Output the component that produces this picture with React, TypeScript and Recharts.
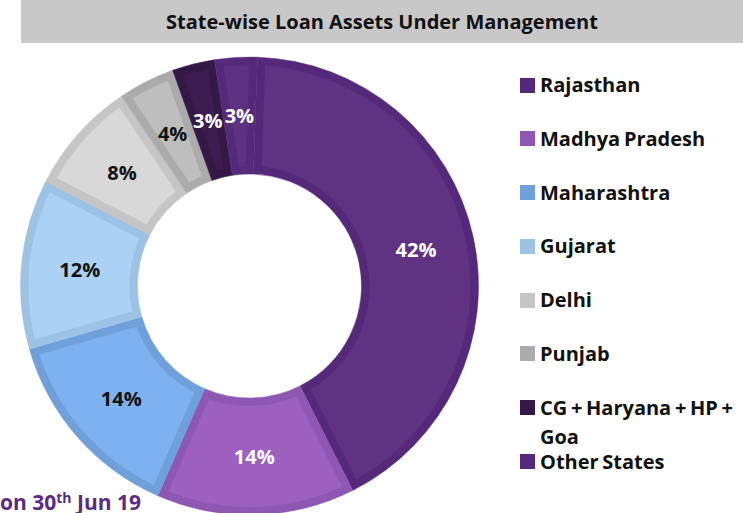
import React from "react";
import { PieChart, Pie, Cell, Legend } from "recharts";

const STATES = [
  "Rajasthan",
  "Madhya Pradesh",
  "Maharashtra",
  "Gujarat",
  "Delhi",
  "Punjab",
  "CG + Haryana + HP + Goa",
  "Other States",
];
const SHARES = [42, 14, 14, 12, 8, 4, 3, 3];

// darker rim / lighter face of each slice
const RIM = ["#55297a", "#8e57b4", "#6fa0da", "#9cc2e4", "#c5c5c5", "#ababab", "#341946", "#542a7b"];
const FACE = ["#5f3282", "#9c60c1", "#7db1ef", "#abd2f4", "#d8d8d8", "#bebebe", "#3d1c52", "#5e3181"];
const LABEL_INK = ["#fff", "#fff", "#111", "#111", "#111", "#111", "#fff", "#fff"];

const data = STATES.map((name, i) => ({ name, value: SHARES[i] }));

const RIM_W = 8;
const FONT = "'Open Sans', sans-serif";

const pt = (cx: number, cy: number, r: number, deg: number) => {
  const a = (-deg * Math.PI) / 180;
  return [cx + r * Math.cos(a), cy + r * Math.sin(a)];
};

// sector shrunk by RIM_W on every side, so the rim shows round it
const insetPath = (cx: number, cy: number, r0: number, r1: number, a0: number, a1: number) => {
  const lo = Math.min(a0, a1);
  const hi = Math.max(a0, a1);
  const ri = r0 + RIM_W;
  const ro = r1 - RIM_W;
  const di = (Math.asin(RIM_W / ri) * 180) / Math.PI;
  const dout = (Math.asin(RIM_W / ro) * 180) / Math.PI;
  if (hi - lo <= 2 * di) return "";
  const large = hi - lo - 2 * dout > 180 ? 1 : 0;
  const [x1, y1] = pt(cx, cy, ro, hi - dout);
  const [x2, y2] = pt(cx, cy, ro, lo + dout);
  const [x3, y3] = pt(cx, cy, ri, lo + di);
  const [x4, y4] = pt(cx, cy, ri, hi - di);
  return `M${x1},${y1} A${ro},${ro} 0 ${large} 1 ${x2},${y2} L${x3},${y3} A${ri},${ri} 0 ${large} 0 ${x4},${y4} Z`;
};

const renderFace = (p: any) => {
  const d = insetPath(p.cx, p.cy, p.innerRadius, p.outerRadius, p.startAngle, p.endAngle);
  return <path key={`face-${p.index}`} d={d} fill={FACE[p.index]} stroke="none" />;
};

const renderValue = (p: any) => {
  const r = (p.innerRadius + p.outerRadius) / 2;
  const [x, y] = pt(p.cx, p.cy, r, p.midAngle);
  return (
    <text
      key={`val-${p.index}`}
      x={x}
      y={y}
      textAnchor="middle"
      dominantBaseline="central"
      fill={LABEL_INK[p.index]}
      style={{ fontFamily: FONT, fontWeight: 700, fontSize: 20 }}
    >
      {p.value}%
    </text>
  );
};

const renderLegend = () => (
  <div style={{ fontFamily: FONT }}>
    {STATES.map((name, i) => (
      <div
        key={name}
        style={{
          position: "relative",
          height: 29,
          marginBottom: 24.8,
          paddingLeft: 20,
          lineHeight: "29px",
          fontSize: 20,
          fontWeight: 700,
          color: "#111",
          wordSpacing: -1.5,
        }}
      >
        <span
          style={{
            position: "absolute",
            left: 0,
            top: 7.5,
            width: 15,
            height: 15,
            background: RIM[i],
          }}
        />
        {name}
      </div>
    ))}
  </div>
);

export default function App() {
  return (
    <div
      style={{
        position: "absolute",
        left: 0,
        top: 0,
        width: 743,
        height: 513,
        overflow: "hidden",
        background: "#fff",
        fontFamily: FONT,
      }}
    >
      <div style={{ position: "absolute", left: 0, top: 0 }}>
        <PieChart width={743} height={513} margin={{ top: 0, right: 0, bottom: 0, left: 0 }}>
          <Pie
            data={data}
            dataKey="value"
            nameKey="name"
            cx={249.5}
            cy={286}
            innerRadius={112}
            outerRadius={229}
            startAngle={88}
            endAngle={-272}
            labelLine={false}
            label={renderFace}
            isAnimationActive={false}
          >
            {data.map((d, i) => (
              <Cell key={d.name} fill={RIM[i]} stroke={RIM[i]} strokeWidth={0.5} />
            ))}
          </Pie>
          <Pie
            data={data}
            dataKey="value"
            nameKey="name"
            cx={249.5}
            cy={286}
            innerRadius={112}
            outerRadius={229}
            startAngle={88}
            endAngle={-272}
            fill="transparent"
            stroke="none"
            legendType="none"
            labelLine={false}
            label={renderValue}
            isAnimationActive={false}
          />
          <Legend
            layout="vertical"
            align="right"
            verticalAlign="top"
            content={renderLegend}
            wrapperStyle={{ left: 520, top: 70, width: 223 }}
          />
        </PieChart>
      </div>

      <div
        style={{
          position: "absolute",
          left: 21,
          top: 0,
          width: 722,
          height: 43,
          background: "#c8c8c8",
          display: "flex",
          alignItems: "center",
          justifyContent: "center",
          fontWeight: 700,
          fontSize: 20,
          color: "#111",
        }}
      >
        State-wise Loan Assets Under Management
      </div>

      <div
        style={{
          position: "absolute",
          left: 0,
          top: 492,
          whiteSpace: "nowrap",
          fontSize: 21,
          lineHeight: "21px",
          fontWeight: 700,
          color: "#5b2c82",
        }}
      >
        on 30<span style={{ fontSize: 14, position: "relative", top: -7 }}>th</span> Jun 19
      </div>
    </div>
  );
}
